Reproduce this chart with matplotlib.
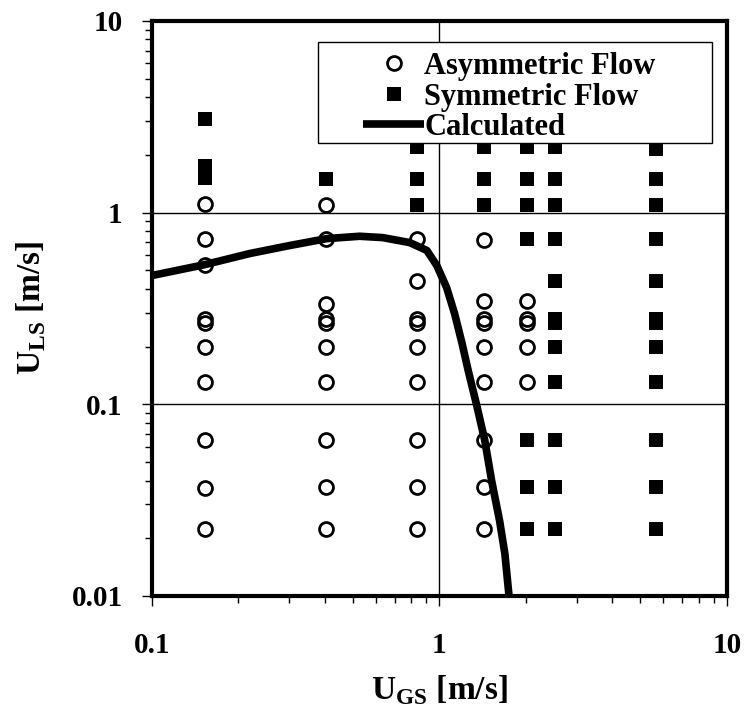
import numpy as np
import matplotlib.pyplot as plt
from matplotlib.patches import Rectangle

plt.rcParams['font.family'] = 'Liberation Serif'
plt.rcParams['font.weight'] = 'bold'
plt.rcParams['mathtext.fontset'] = 'custom'
plt.rcParams['mathtext.rm'] = 'Liberation Serif:bold'
plt.rcParams['mathtext.bf'] = 'Liberation Serif:bold'

# asymmetric flow observations (UGS, ULS) [m/s]
asym_ugs = [0.153]*10 + [0.405]*10 + [0.836]*9 + [1.43]*9 + [2.01]*5
asym_uls = [1.11, 0.73, 0.53, 0.28, 0.265, 0.2, 0.131, 0.0653, 0.0366, 0.0224,
            1.10, 0.73, 0.335, 0.28, 0.265, 0.2, 0.131, 0.065, 0.037, 0.0224,
            0.73, 0.44, 0.28, 0.265, 0.2, 0.131, 0.065, 0.037, 0.0224,
            0.72, 0.345, 0.28, 0.265, 0.2, 0.131, 0.065, 0.037, 0.0224,
            0.345, 0.28, 0.265, 0.2, 0.131]

# symmetric flow observations
sym_ugs = [0.153]*3 + [0.405] + [0.836]*3 + [1.43]*3 + [2.01]*7 + [2.52]*12 + [5.66]*12
sym_uls = [3.08, 1.74, 1.51,
           1.49,
           2.2, 1.49, 1.10,
           2.2, 1.49, 1.10,
           2.2, 1.49, 1.10, 0.73, 0.065, 0.037, 0.0224,
           2.2, 1.49, 1.10, 0.73, 0.44, 0.28, 0.265, 0.2, 0.131, 0.065, 0.037, 0.0224,
           2.15, 1.49, 1.10, 0.73, 0.44, 0.28, 0.265, 0.2, 0.131, 0.065, 0.037, 0.0224]

# calculated transition boundary
calc_ugs = [0.100, 0.153, 0.219, 0.302, 0.406, 0.528, 0.635, 0.789,
            0.905, 0.980, 1.06, 1.13, 1.20, 1.26, 1.35, 1.44, 1.52, 1.62,
            1.69, 1.75]
calc_uls = [0.469, 0.535, 0.611, 0.673, 0.731, 0.752, 0.740, 0.697,
            0.634, 0.529, 0.406, 0.297, 0.207, 0.150, 0.0982, 0.0644, 0.0399,
            0.0247, 0.0166, 0.00977]

fig = plt.figure(figsize=(7.44, 7.18), dpi=100)
ax = fig.add_axes([0.204, 0.170, 0.773, 0.801])

ax.plot(asym_ugs, asym_uls, 'o', ms=10, mfc='none', mec='k', mew=2,
        label='Asymmetric Flow', zorder=3)
ax.plot(sym_ugs, sym_uls, 's', ms=10.5, color='k', mew=0,
        label='Symmetric Flow', zorder=3)
ax.plot(calc_ugs, calc_uls, '-k', lw=5.5, solid_capstyle='butt',
        solid_joinstyle='round', label='Calculated', zorder=4)

ax.set_xscale('log')
ax.set_yscale('log')
ax.set_xlim(0.1, 10)
ax.set_ylim(0.01, 10)
ax.set_xticks([0.1, 1, 10])
ax.set_xticklabels(['0.1', '1', '10'])
ax.set_yticks([0.01, 0.1, 1, 10])
ax.set_yticklabels(['0.01', '0.1', '1', '10'])
ax.grid(True, which='major', color='k', lw=1)

for s in ax.spines.values():
    s.set_linewidth(3)
ax.tick_params(which='major', direction='out', length=7, width=1, labelsize=21)
ax.tick_params(which='minor', direction='out', length=5, width=1)
ax.tick_params(axis='x', which='major', pad=19)
ax.tick_params(axis='y', which='major', pad=14)

ax.set_xlabel(r'U$_{\rm GS}$ [m/s]', fontsize=24, fontweight='bold', labelpad=10)
ax.set_ylabel(r'U$_{\rm LS}$ [m/s]', fontsize=24, fontweight='bold', labelpad=17)

# legend box drawn separately so the handles can sit inset from the frame
ax.add_patch(Rectangle((318/744, 1-143/718), 394/744, 101/718,
                       transform=fig.transFigure, clip_on=False,
                       facecolor='white', edgecolor='k', lw=1, zorder=4.5))
leg = ax.legend(loc='upper left', bbox_to_anchor=(363/744, 1-52/718),
                bbox_transform=fig.transFigure, fontsize=22, frameon=False,
                handlelength=2.0, handletextpad=0.0, labelspacing=0.05,
                borderpad=0, borderaxespad=0)
leg.set_zorder(5)
for t in leg.get_texts():
    t.set_fontweight('bold')

fig.savefig('out.png', dpi=100)
